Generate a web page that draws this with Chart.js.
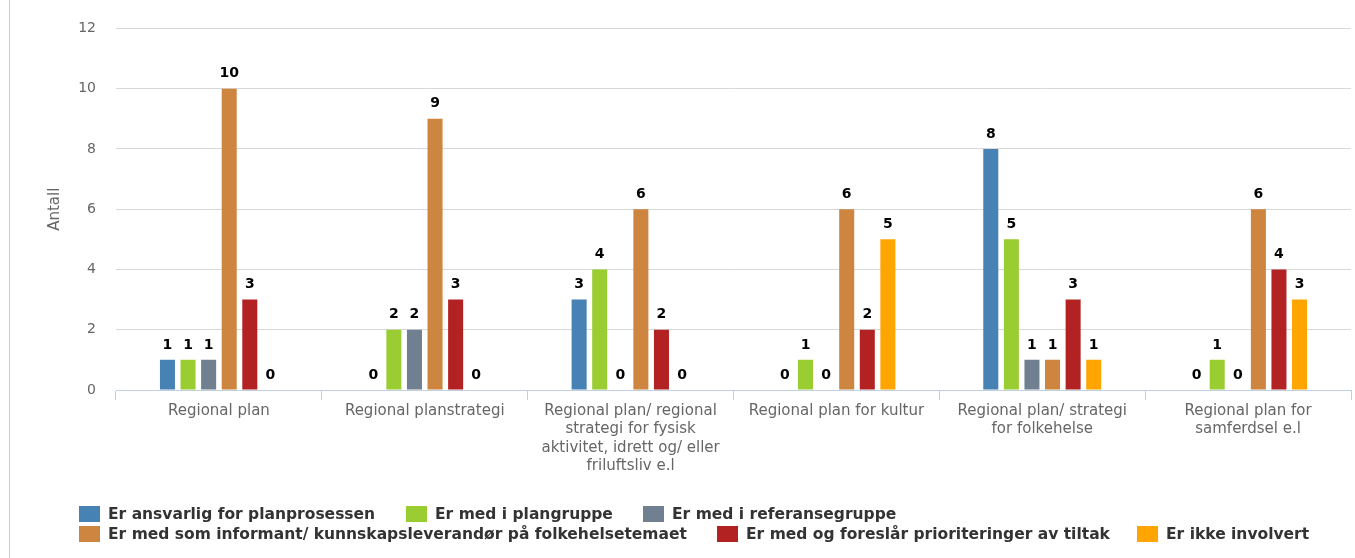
<!DOCTYPE html>
<html lang="no">
<head>
  <meta charset="UTF-8" />
  <title>Antall</title>
  <script src="https://cdn.jsdelivr.net/npm/chart.js"></script>
  <style>
    body {
      margin: 0;
      background: #fff;
      font-family: "DejaVu Sans", sans-serif;
    }
    #wrap {
      position: relative;
      width: 1355px;
      height: 558px;
      overflow: hidden;
    }
    #edge {
      position: absolute;
      left: 9px;
      top: 0;
      width: 1px;
      height: 558px;
      background: #cccccc;
    }
    #chart {
      position: absolute;
      left: 0;
      top: 0;
    }
    .item {
      position: absolute;
      height: 16px;
      font-weight: bold;
      font-size: 15.5px;
      color: #333333;
      white-space: nowrap;
      line-height: 16px;
    }
    .item .box {
      position: absolute;
      left: 0;
      top: 0;
      width: 21px;
      height: 16px;
    }
    .item .txt {
      position: absolute;
      left: 29px;
      top: 0;
    }
  </style>
</head>
<body>
  <div id="wrap">
    <div id="edge"></div>
    <canvas id="chart" width="1355" height="558"></canvas>
    <div id="legend"></div>
  </div>
  <script>
    const categories = [
      ['Regional plan'],
      ['Regional planstrategi'],
      ['Regional plan/ regional', 'strategi for fysisk', 'aktivitet, idrett og/ eller', 'friluftsliv e.l'],
      ['Regional plan for kultur'],
      ['Regional plan/ strategi', 'for folkehelse'],
      ['Regional plan for', 'samferdsel e.l']
    ];
    const seriesNames = [
      'Er ansvarlig for planprosessen',
      'Er med i plangruppe',
      'Er med i referansegruppe',
      'Er med som informant/ kunnskapsleverandør på folkehelsetemaet',
      'Er med og foreslår prioriteringer av tiltak',
      'Er ikke involvert'
    ];
    const ansvarlig = [1, 0, 3, 0, 8, 0];
    const plangruppe = [1, 2, 4, 1, 5, 1];
    const referansegruppe = [1, 2, 0, 0, 1, 0];
    const informant = [10, 9, 6, 6, 1, 6];
    const foreslaar = [3, 3, 2, 2, 3, 4];
    const ikkeInvolvert = [0, 0, 0, 5, 1, 3];
    const yTicks = [0, 2, 4, 6, 8, 10, 12];

    const colors = ['#4682b4', '#9acd32', '#708090', '#cd853f', '#b22222', '#ffa500'];
    const seriesValues = [ansvarlig, plangruppe, referansegruppe, informant, foreslaar, ikkeInvolvert];

    // legend placement: [left, top] for each item
    const legendPos = [[79, 506], [406, 506], [643, 506], [79, 526], [717, 526], [1137, 526]];

    const valueLabels = {
      id: 'valueLabels',
      afterDatasetsDraw(chart) {
        const ctx = chart.ctx;
        ctx.save();
        ctx.font = 'bold 14px "DejaVu Sans"';
        ctx.textAlign = 'center';
        ctx.textBaseline = 'middle';
        ctx.lineJoin = 'round';
        chart.data.datasets.forEach((ds, i) => {
          const meta = chart.getDatasetMeta(i);
          meta.data.forEach((bar, j) => {
            const txt = String(ds.data[j]);
            const y = bar.y - 15;
            ctx.strokeStyle = 'rgba(255,255,255,0.9)';
            ctx.lineWidth = 3;
            ctx.strokeText(txt, bar.x, y);
            ctx.fillStyle = '#000000';
            ctx.fillText(txt, bar.x, y);
          });
        });
        ctx.restore();
      }
    };

    new Chart(document.getElementById('chart'), {
      type: 'bar',
      data: {
        labels: categories,
        datasets: seriesNames.map((name, i) => ({
          label: name,
          data: seriesValues[i],
          backgroundColor: colors[i],
          borderWidth: 0,
          categoryPercentage: 0.6,
          barPercentage: 0.73
        }))
      },
      options: {
        responsive: false,
        animation: false,
        layout: { padding: { top: 27, right: 4, bottom: 68, left: 0 } },
        plugins: {
          legend: { display: false },
          tooltip: { enabled: false }
        },
        scales: {
          x: {
            grid: {
              drawOnChartArea: false,
              drawTicks: true,
              tickLength: 10,
              color: '#c0d0e0'
            },
            border: { color: '#c0d0e0' },
            ticks: {
              color: '#666666',
              padding: 2,
              maxRotation: 0,
              autoSkip: false,
              font: { family: '"DejaVu Sans"', size: 15, lineHeight: 1.22 }
            },
            afterFit: s => { s.height = 100; }
          },
          y: {
            min: 0,
            max: 12,
            afterBuildTicks: s => { s.ticks = yTicks.map(v => ({ value: v })); },
            grid: { color: '#d8d8d8', drawTicks: false },
            border: { display: false },
            ticks: {
              color: '#666666',
              padding: 20,
              font: { family: '"DejaVu Sans"', size: 14 }
            },
            title: {
              display: true,
              text: 'Antall',
              color: '#666666',
              padding: { top: 46, bottom: 0 },
              font: { family: '"DejaVu Sans"', size: 15 }
            },
            afterFit: s => { s.width = 116; }
          }
        }
      },
      plugins: [valueLabels]
    });

    const legend = document.getElementById('legend');
    seriesNames.forEach((name, i) => {
      const item = document.createElement('div');
      item.className = 'item';
      item.style.left = legendPos[i][0] + 'px';
      item.style.top = legendPos[i][1] + 'px';
      item.innerHTML = `<span class="box" style="background:${colors[i]}"></span><span class="txt">${name}</span>`;
      legend.appendChild(item);
    });
  </script>
</body>
</html>
